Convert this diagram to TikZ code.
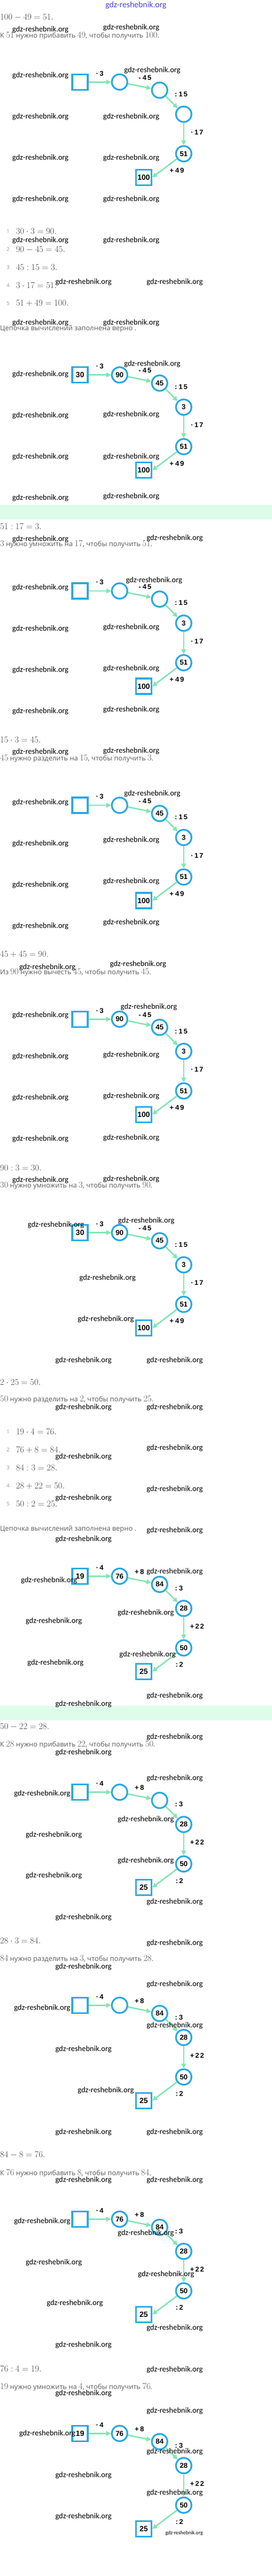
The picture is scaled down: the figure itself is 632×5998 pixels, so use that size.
\documentclass[tikz,border=0pt]{standalone}
\usepackage{fontspec}
\usetikzlibrary{arrows.meta}
\newfontfamily\sentfont{Open Sans}
\newfontfamily\wmfont{Carlito}
\newfontfamily\lblfont[LetterSpace=16]{Liberation Sans}
\newfontfamily\nodefont{Liberation Sans}
\definecolor{cblue}{RGB}{41,169,225}
\definecolor{cgreen}{RGB}{130,230,176}
\definecolor{cband}{RGB}{222,252,234}
\definecolor{mgray}{RGB}{75,75,75}
\definecolor{sgray}{RGB}{95,95,95}
\definecolor{lgray}{RGB}{150,150,150}
\definecolor{wmblue}{RGB}{70,70,225}
\newcommand\mnum[1]{{\fontsize{20}{24}\selectfont$#1$}}
\newcommand\labsetting[8]{\def\labA{#1}\def\labB{#2}\def\labC{#3}\def\labD{#4}\def\labE{#5}\def\posB{#6}\def\posC{#7}\def\posE{#8}}
\newcounter{wmc}
\newcommand\wm[2]{\stepcounter{wmc}\node[wmk] (wm\arabic{wmc}) at (#1,#2) {gdz-reshebnik.org};}
\newcommand\chaindiag[8]{%
\begin{scope}[shift={(0,#2)}]
 \node[sqnode] (#1a) at (186,191) {#3};
 \node[cnode] (#1b) at (278,191) {#4};
 \node[cnode] (#1c) at (371,210) {#5};
 \node[cnode] (#1d) at (427,266) {#6};
 \node[cnode] (#1e) at (427,358) {#7};
 \node[sqnode] (#1f) at (334,413) {#8};
 \draw[arr] (#1a) -- (#1b);
 \draw[arr] (#1b) -- (#1c);
 \draw[arr] (#1c) -- (#1d);
 \draw[arr] (#1d) -- (#1e);
 \draw[arr] (#1e) -- (#1f.east);
 \node[lbl] (#1la) at (232,171) {\labA};
 \node[lbl] (#1lb) at (\posB,181) {\labB};
 \node[lbl] (#1lc) at (\posC,219) {\labC};
 \node[lbl] (#1ld) at (458,308) {\labD};
 \node[lbl] (#1le) at (\posE,397) {\labE};
\end{scope}}
\tikzset{
 sqnode/.style={draw=cblue, line width=4pt, minimum size=36pt, inner sep=0pt, font=\nodefont\bfseries\fontsize{17.5}{18}\selectfont},
 cnode/.style={circle, draw=cblue, line width=4pt, minimum size=36pt, inner sep=0pt, font=\nodefont\bfseries\fontsize{16.5}{17}\selectfont},
 arr/.style={draw=cgreen, line width=3.3pt, -{Triangle[length=11pt,width=11pt]}},
 lbl/.style={inner sep=0pt, font=\lblfont\bfseries\fontsize{16}{17}\selectfont},
 mathline/.style={anchor=west, inner sep=0pt, text=mgray, font=\fontsize{20.3}{24}\selectfont},
 sent/.style={anchor=west, inner sep=0pt, text=sgray, font=\sentfont\fontsize{16}{18}\selectfont},
 numlab/.style={inner sep=0pt, text=lgray, font=\sentfont\fontsize{12}{14}\selectfont},
 wmk/.style={inner sep=0pt, text=black, font=\wmfont\fontsize{18}{20}\selectfont},
}
\begin{document}
\begin{tikzpicture}[x=1pt,y=-1pt]
\fill[white] (0,0) rectangle (632,5998);
\useasboundingbox (0,0) rectangle (632,5998);
% bands
\fill[cband] (0,1175) rectangle (632,1209);
\fill[cband] (0,3972) rectangle (632,4006);
% top watermark
\node[inner sep=0pt, text=wmblue, font=\wmfont\fontsize{19.5}{20}\selectfont] (topwm) at (316,12) {gdz-reshebnik.org};
% ---------- problem 1 ----------
\node[mathline] (t1) at (0,40) {$100-49=51.$};
\node[sent] (s1) at (0,83) {К \mnum{51} нужно прибавить \mnum{49}, чтобы получить \mnum{100}.};
\labsetting{·\hspace{3pt}3}{-\hspace{4pt}45}{:\hspace{4pt}15}{·\hspace{3pt}17}{+\hspace{4pt}49}{337}{421}{411}
\chaindiag{da}{0}{}{}{}{}{51}{100}
\node[numlab] (n1) at (19,538) {1}; \node[mathline] (e1) at (37,538) {$30\cdot 3=90.$};
\node[numlab] (n2) at (19,581) {2}; \node[mathline] (e2) at (37,581) {$90-45=45.$};
\node[numlab] (n3) at (19,622) {3}; \node[mathline] (e3) at (37,622) {$45:15=3.$};
\node[numlab] (n4) at (19,664) {4}; \node[mathline] (e4) at (37,664) {$3\cdot 17=51.$};
\node[numlab] (n5) at (19,706) {5}; \node[mathline] (e5) at (37,706) {$51+49=100.$};
\node[sent] (c1) at (0,766) {Цепочка вычислений заполнена верно .};
\chaindiag{db}{682}{30}{90}{45}{3}{51}{100}
% ---------- steps ----------
\node[mathline] (t2) at (0,1226) {$51:17=3.$};
\node[sent] (s2) at (0,1267) {\mnum{3} нужно умножить на \mnum{17}, чтобы получить \mnum{51}.};
\chaindiag{dc}{1185}{}{}{}{3}{51}{100}
\node[mathline] (t3) at (0,1723) {$15\cdot 3=45.$};
\node[sent] (s3) at (0,1766) {\mnum{45} нужно разделить на \mnum{15}, чтобы получить \mnum{3}.};
\chaindiag{dd}{1684}{}{}{45}{3}{51}{100}
\node[mathline] (t4) at (0,2222) {$45+45=90.$};
\node[sent] (s4) at (0,2264) {Из \mnum{90} нужно вычесть \mnum{45}, чтобы получить \mnum{45}.};
\chaindiag{de}{2182}{}{90}{45}{3}{51}{100}
\node[mathline] (t5) at (0,2719) {$90:3=30.$};
\node[sent] (s5) at (0,2761) {\mnum{30} нужно умножить на \mnum{3}, чтобы получить \mnum{90}.};
\chaindiag{df}{2679}{30}{90}{45}{3}{51}{100}
% ---------- problem 2 ----------
\node[mathline] (t6) at (0,3218) {$2\cdot 25=50.$};
\node[sent] (s6) at (0,3259) {\mnum{50} нужно разделить на \mnum{2}, чтобы получить \mnum{25}.};
\node[numlab] (m1) at (19,3334) {1}; \node[mathline] (f1) at (37,3334) {$19\cdot 4=76.$};
\node[numlab] (m2) at (19,3376) {2}; \node[mathline] (f2) at (37,3376) {$76+8=84.$};
\node[numlab] (m3) at (19,3418) {3}; \node[mathline] (f3) at (37,3418) {$84:3=28.$};
\node[numlab] (m4) at (19,3460) {4}; \node[mathline] (f4) at (37,3460) {$28+22=50.$};
\node[numlab] (m5) at (19,3502) {5}; \node[mathline] (f5) at (37,3502) {$50:2=25.$};
\node[sent] (c2) at (0,3561) {Цепочка вычислений заполнена верно .};
\labsetting{·\hspace{3pt}4}{+\hspace{3pt}8}{:\hspace{4pt}3}{+22}{:\hspace{3pt}2}{324}{416}{417}
\chaindiag{dg}{3479}{19}{76}{84}{28}{50}{25}
\node[mathline] (t7) at (0,4021) {$50-22=28.$};
\node[sent] (s7) at (0,4063) {К \mnum{28} нужно прибавить \mnum{22}, чтобы получить \mnum{50}.};
\chaindiag{dh}{3982}{}{}{}{28}{50}{25}
\node[mathline] (t8) at (0,4519) {$28\cdot 3=84.$};
\node[sent] (s8) at (0,4562) {\mnum{84} нужно разделить на \mnum{3}, чтобы получить \mnum{28}.};
\chaindiag{di}{4478}{}{}{84}{28}{50}{25}
\node[mathline] (t9) at (0,5017) {$84-8=76.$};
\node[sent] (s9) at (0,5060) {К \mnum{76} нужно прибавить \mnum{8}, чтобы получить \mnum{84}.};
\chaindiag{dj}{4976}{}{76}{84}{28}{50}{25}
\node[mathline] (t10) at (0,5516) {$76:4=19.$};
\node[sent] (s10) at (0,5558) {\mnum{19} нужно умножить на \mnum{4}, чтобы получить \mnum{76}.};
\chaindiag{dk}{5475}{19}{76}{84}{28}{50}{25}
% ---------- watermarks ----------
\wm{94}{69}\wm{305}{64}
\wm{94}{176}\wm{354}{164}
\wm{94}{272}\wm{305}{272}
\wm{94}{368}\wm{305}{368}
\wm{94}{464}\wm{305}{464}
\wm{94}{560}\wm{305}{560}
\wm{194}{657}\wm{406}{657}
\wm{94}{752}\wm{305}{752}
\wm{354}{848}\wm{94}{872}
\wm{94}{968}\wm{305}{965}
\wm{94}{1064}\wm{305}{1064}
\wm{94}{1159}\wm{305}{1156}
\wm{94}{1256}\wm{406}{1253}
\wm{358}{1352}\wm{94}{1368}
\wm{94}{1464}\wm{305}{1460}
\wm{94}{1560}\wm{305}{1556}
\wm{94}{1656}\wm{305}{1652}
\wm{94}{1751}\wm{305}{1748}
\wm{354}{1848}\wm{94}{1868}
\wm{94}{1964}\wm{305}{1956}
\wm{94}{2060}\wm{305}{2052}
\wm{94}{2156}\wm{305}{2148}
\wm{110}{2252}\wm{321}{2245}
\wm{346}{2345}\wm{94}{2364}
\wm{94}{2460}\wm{305}{2456}
\wm{94}{2556}\wm{305}{2552}
\wm{94}{2652}\wm{305}{2649}
\wm{94}{2748}\wm{305}{2745}
\wm{340}{2843}\wm{130}{2852}
\wm{250}{2976}
\wm{246}{3072}
\wm{194}{3168}\wm{406}{3168}
\wm{194}{3277}\wm{406}{3277}
\wm{406}{3372}\wm{194}{3392}
\wm{406}{3468}\wm{194}{3488}
\wm{406}{3564}\wm{194}{3584}
\wm{406}{3660}\wm{114}{3680}
\wm{339}{3755}\wm{125}{3775}
\wm{343}{3852}\wm{129}{3872}
\wm{406}{3949}\wm{194}{3968}
\wm{406}{4044}\wm{194}{4080}
\wm{406}{4140}\wm{98}{4176}
\wm{339}{4236}\wm{125}{4272}
\wm{339}{4332}\wm{125}{4367}
\wm{406}{4428}\wm{194}{4464}
\wm{406}{4524}\wm{194}{4580}
\wm{406}{4620}\wm{98}{4676}
\wm{406}{4716}\wm{194}{4772}
\wm{246}{4868}
\wm{194}{4964}\wm{406}{4964}
\wm{194}{5076}\wm{406}{5076}
\wm{98}{5172}\wm{339}{5200}
\wm{125}{5268}\wm{386}{5296}
\wm{174}{5363}\wm{406}{5420}
\wm{194}{5460}
\wm{406}{5517}\wm{194}{5573}
\wm{406}{5613}\wm{110}{5666}
\wm{406}{5708}\wm{194}{5764}
\wm{406}{5804}\wm{194}{5860}
\node[inner sep=0pt, text=black, font=\wmfont\fontsize{12}{13}\selectfont] (wmsmall) at (428,5898) {gdz-reshebnik.org};
\end{tikzpicture}
\end{document}
